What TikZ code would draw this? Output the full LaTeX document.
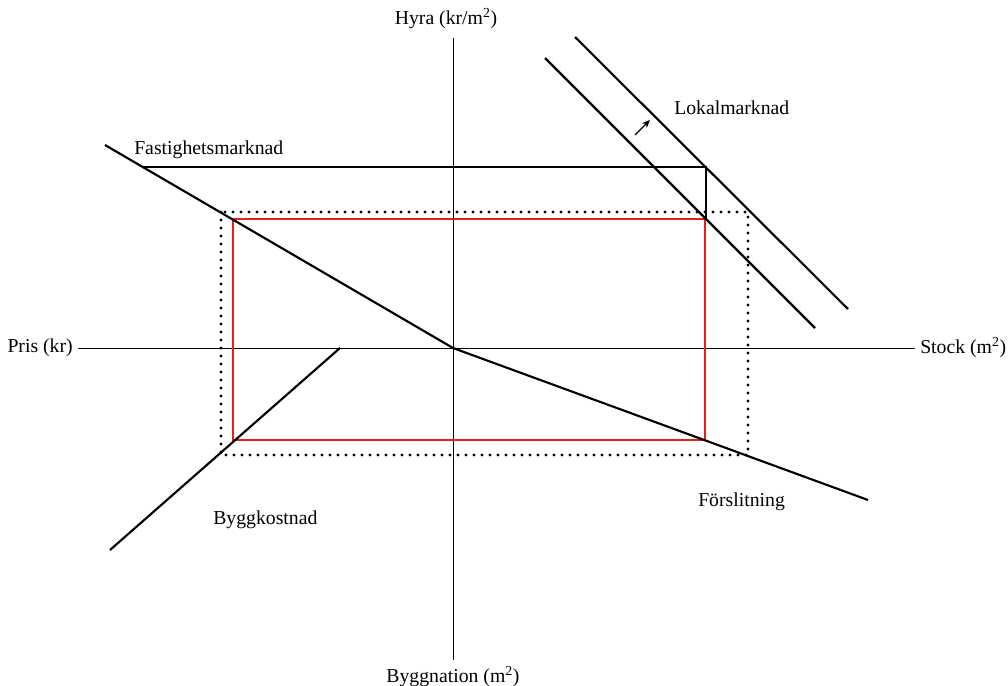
\documentclass[tikz,border=0pt]{standalone}
\usepackage{fontspec}
\setmainfont{Liberation Serif}
\usetikzlibrary{arrows.meta}

\begin{document}
\begin{tikzpicture}[x=0.75pt,y=0.75pt,yscale=-1,xscale=1,
	axis/.style={line width=0.75pt},
	curve/.style={line width=1.6pt},
	lbl/.style={inner sep=0.75pt,font=\fontsize{14.8}{17}\selectfont}]
	\useasboundingbox (0,0) rectangle (1008,686);
	
	%Points
	\coordinate (yTop) at (453,38);
	\coordinate (yBot) at (453,660);
	\coordinate (xLeft) at (78,348);
	\coordinate (xRight) at (915,348);
	\coordinate (origo) at (453,348);
	\coordinate (fastStart) at (105,145);
	\coordinate (forsEnd) at (868,500);
	\coordinate (byggStart) at (110,550);
	\coordinate (byggEnd) at (340,348);
	\coordinate (lokOutA) at (575,37);
	\coordinate (lokOutB) at (848,309);
	\coordinate (lokInA) at (545,58);
	\coordinate (lokInB) at (815,328);
	\coordinate (hyraL) at (143,167);
	\coordinate (hyraR) at (706,167);
	\coordinate (hyraD) at (706,219);
	\coordinate (shiftA) at (635,135);
	\coordinate (shiftB) at (650,120);
	
	%Axes
	\draw [axis] (yTop) -- (yBot) ;
	\draw [axis] (xLeft) -- (xRight) ;
	
	%Dotted rectangle
	\draw [line width=2.3pt, dash pattern={on 0pt off 6pt}, line cap=round] (221,212) rectangle (748,455) ;
	
	%Thin guide
	\draw [line width=0.8pt] (hyraL) -- (hyraR) -- (hyraD) ;
	
	%Red rectangle
	\draw [color={rgb, 255:red, 232; green, 32; blue, 18 }, line width=2.1pt] (233,219) rectangle (705,440) ;
	
	%Straight Lines
	\draw [curve] (fastStart) -- (origo) -- (forsEnd) ;
	\draw [curve] (byggStart) -- (byggEnd) ;
	\draw [curve] (lokOutA) -- (lokOutB) ;
	\draw [curve] (lokInA) -- (lokInB) ;
	\draw [line width=0.9pt, -{Stealth[length=6pt,width=5pt]}] (shiftA) -- (shiftB) ;
	
	% Text Node
	\node (hyra) [lbl, anchor=south] at (446,30) {Hyra (kr/m\textsuperscript{2})};
	% Text Node
	\node (pris) [lbl, anchor=east] at (74,348) {Pris (kr)};
	% Text Node
	\node (stock) [lbl, anchor=west] at (919,348) {Stock (m\textsuperscript{2})};
	% Text Node
	\node (byggnation) [lbl, anchor=north] at (453,665) {Byggnation (m\textsuperscript{2})};
	% Text Node
	\node (fast) [lbl, anchor=west] at (133,150) {Fastighetsmarknad};
	% Text Node
	\node (lokal) [lbl, anchor=west] at (673,108) {Lokalmarknad};
	% Text Node
	\node (bygg) [lbl, anchor=west] at (212,520) {Byggkostnad};
	% Text Node
	\node (fors) [lbl, anchor=west] at (697,502) {Förslitning};
	
\end{tikzpicture}
\end{document}
